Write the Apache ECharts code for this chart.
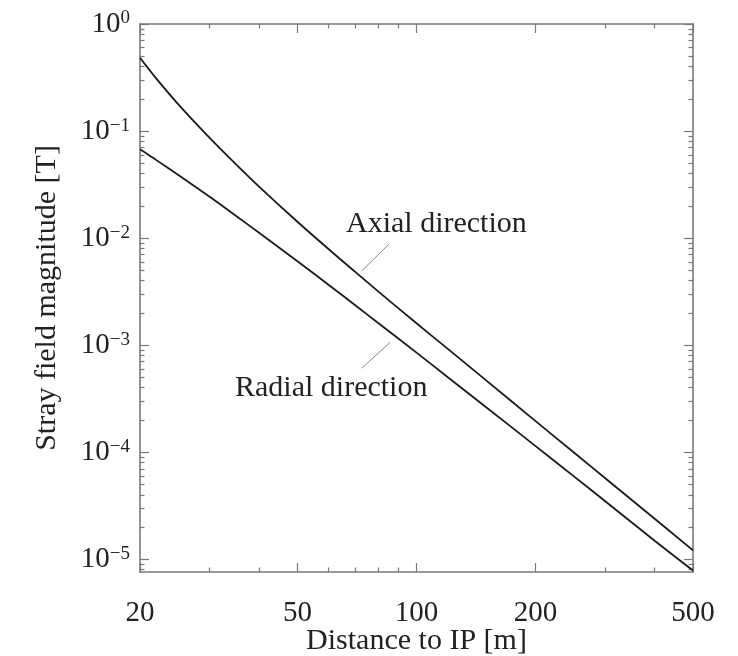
<!DOCTYPE html>
<html>
<head>
<meta charset="utf-8">
<script src="https://cdn.jsdelivr.net/npm/echarts@6/dist/echarts.min.js"></script>
<style>
  html, body { margin: 0; padding: 0; background: #fff; }
  #chart { width: 738px; height: 656px; }
</style>
</head>
<body>
<div id="chart"></div>
<script>
// distance to IP [m]
var dist = [20, 21, 22, 25, 30, 35, 40, 50, 60, 70, 80, 100, 120, 150, 200, 250, 300, 400, 500]
// stray field [T]
var axialField = [0.484, 0.383, 0.309, 0.1774, 0.0863, 0.0488, 0.0303, 0.01422, 7.87e-3, 4.83e-3, 3.18e-3, 1.60e-3, 9.22e-4, 4.69e-4, 1.95e-4, 9.93e-5, 5.71e-5, 2.39e-5, 1.21e-5]
var radialField = [0.0675, 0.0601, 0.0535, 0.0388, 0.0243, 0.0161, 0.0112, 6.08e-3, 3.65e-3, 2.36e-3, 1.61e-3, 8.51e-4, 5.02e-4, 2.63e-4, 1.14e-4, 5.94e-5, 3.48e-5, 1.49e-5, 7.85e-6]

var xMajor = [20, 50, 100, 200, 500]
var xMinor = [30, 40, 60, 70, 80, 90, 300, 400]
var yMajor = [1, 1e-1, 1e-2, 1e-3, 1e-4, 1e-5]
var yMinor = []
for (var k = -6; k < 0; k++) {
  for (var m = 2; m <= 9; m++) {
    var v = m * Math.pow(10, k)
    if (v >= 7.6e-6 && v < 1) yMinor.push(v)
  }
}

var FONT = 'Liberation Serif'
var FRAME = '#7a7a7a'
var X_MIN = 20, X_MAX = 500, Y_MIN = 7.6e-6, Y_MAX = 1

function pairs (ys) {
  return dist.map(function (d, i) { return [d, ys[i]] })
}

function xAx (pos, ticks, len, line, label) {
  return {
    type: 'log', logBase: 10, position: pos, min: X_MIN, max: X_MAX,
    axisLine: { show: line, onZero: false, lineStyle: { color: FRAME, width: 1.6 } },
    axisTick: { show: true, inside: true, length: len, customValues: ticks, lineStyle: { color: FRAME, width: 1.2 } },
    axisLabel: label ? {
      show: true, customValues: ticks, margin: 27,
      fontFamily: FONT, fontSize: 29, color: '#222'
    } : { show: false },
    splitLine: { show: false },
    minorTick: { show: false }
  }
}

function yAx (pos, ticks, len, line, label) {
  return {
    type: 'log', logBase: 10, position: pos, min: Y_MIN, max: Y_MAX,
    axisLine: { show: line, onZero: false, lineStyle: { color: FRAME, width: 1.6 } },
    axisTick: { show: true, inside: true, length: len, customValues: ticks, lineStyle: { color: FRAME, width: 1.2 } },
    axisLabel: label ? {
      show: true, customValues: ticks, margin: 10,
      formatter: function (val) {
        var e = Math.round(Math.log(val) / Math.LN10)
        return '{b|10}{s|' + String(e).replace('-', '\u2212') + '}'
      },
      rich: {
        b: { fontFamily: FONT, fontSize: 29, color: '#222', lineHeight: 30 },
        s: { fontFamily: FONT, fontSize: 19, color: '#222', lineHeight: 14, verticalAlign: 'top' }
      }
    } : { show: false },
    splitLine: { show: false },
    minorTick: { show: false }
  }
}

var chart = echarts.init(document.getElementById('chart'))
var option = {
  backgroundColor: '#fff',
  animation: false,
  grid: { left: 140, top: 24, width: 553, height: 548, containLabel: false, outerBoundsMode: 'none' },
  xAxis: [
    Object.assign(xAx('bottom', xMajor, 9, true, true), {
      name: 'Distance to IP [m]', nameLocation: 'middle', nameGap: 54, nameMoveOverlap: false,
      nameTextStyle: { fontFamily: FONT, fontSize: 30, color: '#222' }
    }),
    xAx('bottom', xMinor, 4.5, false, false),
    xAx('top', xMajor, 9, true, false),
    xAx('top', xMinor, 4.5, false, false)
  ],
  yAxis: [
    Object.assign(yAx('left', yMajor, 9, true, true), {
      name: 'Stray field magnitude [T]', nameLocation: 'middle', nameGap: 78, nameMoveOverlap: false,
      nameTextStyle: { fontFamily: FONT, fontSize: 30, color: '#222' }
    }),
    yAx('left', yMinor, 4.5, false, false),
    yAx('right', yMajor, 9, true, false),
    yAx('right', yMinor, 4.5, false, false)
  ],
  series: [
    {
      name: 'Axial direction', type: 'line', xAxisIndex: 0, yAxisIndex: 0,
      data: pairs(axialField), showSymbol: false, smooth: 0.4,
      lineStyle: { color: '#1a1a1a', width: 1.8 },
      markLine: {
        silent: true, symbol: 'none', label: { show: false },
        lineStyle: { color: '#8a8a8a', width: 1, type: 'solid' },
        data: [[{ coord: [85.2, 8.77e-3] }, { coord: [72.7, 4.94e-3] }]]
      }
    },
    {
      name: 'Radial direction', type: 'line', xAxisIndex: 0, yAxisIndex: 0,
      data: pairs(radialField), showSymbol: false, smooth: 0.4,
      lineStyle: { color: '#1a1a1a', width: 1.8 },
      markLine: {
        silent: true, symbol: 'none', label: { show: false },
        lineStyle: { color: '#8a8a8a', width: 1, type: 'solid' },
        data: [[{ coord: [85.7, 1.06e-3] }, { coord: [72.7, 6.08e-4] }]]
      }
    }
  ],
  graphic: [
    { type: 'text', left: 346, top: 209, style: { text: 'Axial direction', font: '30px "Liberation Serif"', fill: '#222' } },
    { type: 'text', left: 235, top: 373, style: { text: 'Radial direction', font: '30px "Liberation Serif"', fill: '#222' } }
  ]
}
chart.setOption(option)
</script>
</body>
</html>
